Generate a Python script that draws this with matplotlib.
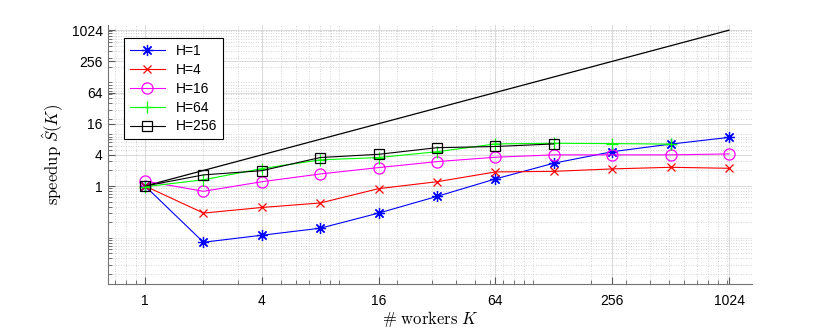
import numpy as np
import matplotlib
matplotlib.use('Agg')
import matplotlib.pyplot as plt
from matplotlib.ticker import FixedLocator, FixedFormatter, LogLocator, NullFormatter

plt.rcParams['font.family'] = ['Liberation Sans', 'DejaVu Sans']
plt.rcParams['mathtext.fontset'] = 'cm'

# number of workers
workers = [1, 2, 4, 8, 16, 32, 64, 128, 256, 512, 1024]

# speedup for each H
speedup_h1 = [1.0, 0.082, 0.112, 0.153, 0.30, 0.63, 1.37, 2.76, 4.6, 6.45, 8.7]
speedup_h4 = [1.0, 0.30, 0.385, 0.47, 0.89, 1.21, 1.87, 1.92, 2.14, 2.3, 2.2]
speedup_h16 = [1.25, 0.79, 1.21, 1.71, 2.27, 2.96, 3.6, 4.0, 4.0, 4.0, 4.17]
speedup_h64 = [0.97, 1.32, 2.17, 3.2, 3.55, 4.6, 6.5, 6.7, 6.6, 6.45]
speedup_h256 = [1.0, 1.64, 1.98, 3.55, 4.1, 5.5, 5.8, 6.5]

ticks = [1, 4, 16, 64, 256, 1024]
tick_labels = ['1', '4', '16', '64', '256', '1024']

fig = plt.figure(figsize=(8.3, 3.32), dpi=100)
ax = fig.add_axes([0.1298, 0.1446, 0.7762, 0.7801])

# ideal speedup
ax.plot(workers, workers, color='k', lw=0.9)

ax.plot(workers, speedup_h1, color=(0, 0, 1), marker=(8, 2, 0), ms=8, mew=0.9, lw=0.8, label='H=1')
ax.plot(workers, speedup_h4, color=(1, 0, 0), marker='x', ms=6, mew=0.9, lw=0.8, label='H=4')
ax.plot(workers, speedup_h16, color=(1, 0, 1), marker='o', ms=8, mfc='none', mew=0.9, lw=0.8, label='H=16')
ax.plot(workers[:len(speedup_h64)], speedup_h64, color=(0, 1, 0), marker='+', ms=9, mew=0.9, lw=0.8, label='H=64')
ax.plot(workers[:len(speedup_h256)], speedup_h256, color='k', marker='s', ms=7, mfc='none', mew=0.9, lw=0.8, label='H=256')

ax.set_xscale('log', base=2)
ax.set_yscale('log', base=2)
ax.set_xlim(0.642, 1345)
ax.set_ylim(0.0128, 1290)

for axis in [ax.xaxis, ax.yaxis]:
    axis.set_major_locator(FixedLocator(ticks))
    axis.set_major_formatter(FixedFormatter(tick_labels))
    axis.set_minor_locator(LogLocator(base=10, subs=np.arange(1, 10), numticks=20))
    axis.set_minor_formatter(NullFormatter())

ax.grid(True, which='major', color='0.85', lw=0.7, ls='-')
ax.grid(True, which='minor', color='0.78', lw=0.6, ls=(0, (1, 2)))
ax.set_axisbelow(True)

ax.tick_params(which='both', direction='in', top=False, right=False, labelsize=10, colors='0.35', labelcolor='k')
ax.tick_params(which='major', length=5, width=0.8)
ax.tick_params(which='minor', length=3, width=0.6)
ax.tick_params(axis='x', pad=7)
ax.spines['top'].set_visible(False)
ax.spines['right'].set_visible(False)
ax.spines['left'].set_color('0.45')
ax.spines['bottom'].set_color('0.45')

ax.set_xlabel(r'$\#\ \mathrm{workers}\ K$', fontsize=12, labelpad=1)
ax.set_ylabel(r'$\mathrm{speedup}\ \hat{S}(K)$', fontsize=12)

leg = ax.legend(loc='upper left', bbox_to_anchor=(0.015, 0.975), fontsize=10, fancybox=False,
                edgecolor='k', framealpha=1, handlelength=2.5, borderpad=0.4, labelspacing=0.35)
leg.get_frame().set_linewidth(0.8)

fig.savefig('out.png', dpi=100)
